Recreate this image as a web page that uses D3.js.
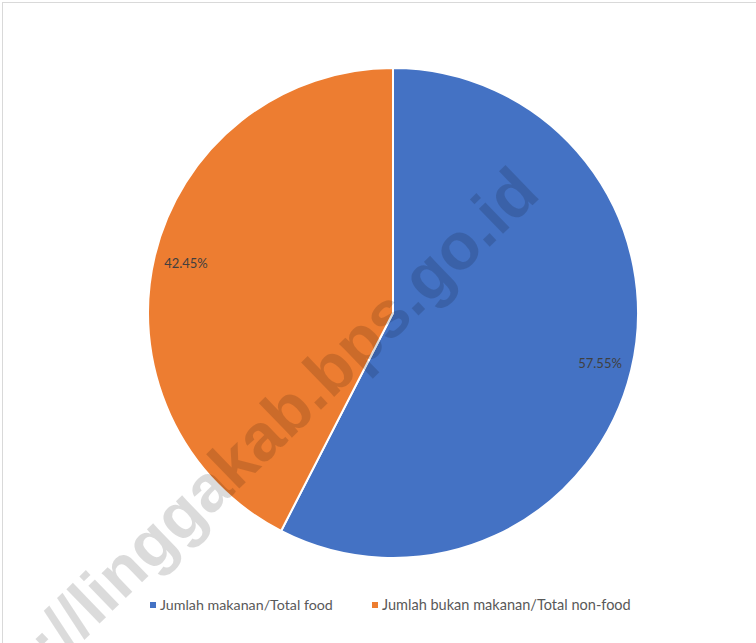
<!DOCTYPE html>
<html>
<head>
<meta charset="utf-8">
<script src="https://cdn.jsdelivr.net/npm/d3@7"></script>
<style>
  html, body { margin: 0; padding: 0; background: #fff; }
  svg { display: block; }
</style>
</head>
<body>
<svg id="chart" width="756" height="643"></svg>
<script>
const categories = ["Jumlah makanan/Total food", "Jumlah bukan makanan/Total non-food"];
const values = [57.55, 42.45];
const valueLabels = ["57.55%", "42.45%"];
const colors = ["#4472C4", "#ED7D31"];
const watermark = "https://linggakab.bps.go.id";

const svg = d3.select("#chart");

// frame
svg.append("rect").attr("x", 2.5).attr("y", 2.5).attr("width", 820).attr("height", 720)
  .attr("fill", "#fff").attr("stroke", "#d9d9d9").attr("stroke-width", 1);

const cx = 393, cy = 313, R = 245;
const data = categories.map((c, i) => ({ name: c, value: values[i], label: valueLabels[i], color: colors[i] }));

const pie = d3.pie().sort(null).value(d => d.value);
const arc = d3.arc().innerRadius(0).outerRadius(R);
const labelArc = d3.arc().innerRadius(213).outerRadius(213);

const g = svg.append("g").attr("transform", `translate(${cx},${cy})`);
const arcs = pie(data);
g.selectAll("path").data(arcs).join("path")
  .attr("d", arc)
  .attr("fill", d => d.data.color)
  .attr("stroke", "#fff").attr("stroke-width", 2).attr("stroke-linejoin", "round");

g.selectAll("text.lbl").data(arcs).join("text")
  .attr("class", "lbl")
  .attr("transform", d => `translate(${labelArc.centroid(d)})`)
  .attr("text-anchor", "middle").attr("dy", "0.35em")
  .attr("font-family", "Lato, 'Open Sans', sans-serif")
  .attr("font-size", 13)
  .attr("fill", "#404040")
  .text(d => d.data.label);

// legend
const legendY = 605;
const legendItems = [{ x: 150, w: 173 }, { x: 372, w: 249 }];
const lg = svg.append("g");
data.forEach((d, i) => {
  const it = legendItems[i];
  lg.append("rect").attr("x", it.x).attr("y", legendY - 3).attr("width", 6).attr("height", 6).attr("fill", d.color);
  const t = lg.append("text").attr("x", it.x + 10).attr("y", legendY).attr("dy", "0.35em")
    .attr("font-family", "Lato, 'Open Sans', sans-serif").attr("font-size", 100)
    .attr("fill", "#595959").text(d.name);
  const len = t.node().getComputedTextLength();
  t.attr("font-size", 100 * it.w / len);
});

// watermark
svg.append("text")
  .attr("transform", "translate(530,184) rotate(-44)")
  .attr("text-anchor", "end").attr("dy", "0.26em")
  .attr("font-family", "'Liberation Sans', Arial, sans-serif").attr("font-weight", "bold")
  .attr("font-size", 66)
  .attr("fill", "#000").attr("fill-opacity", 0.14)
  .text(watermark);
</script>
</body>
</html>
